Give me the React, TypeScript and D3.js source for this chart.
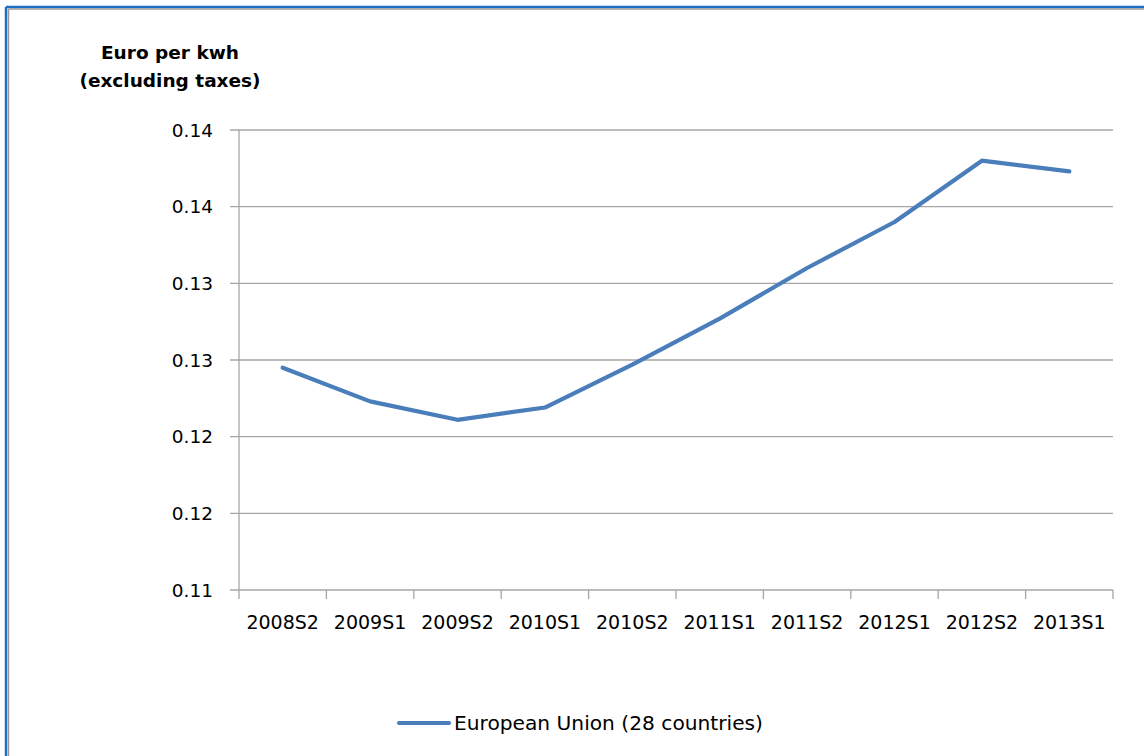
import React from "react";
import * as d3 from "d3";

const categories = ["2008S2", "2009S1", "2009S2", "2010S1", "2010S2", "2011S1", "2011S2", "2012S1", "2012S2", "2013S1"];
const euValues = [0.1245, 0.1223, 0.1211, 0.1219, 0.1247, 0.1277, 0.1310, 0.1340, 0.1380, 0.1373];
const yTickValues = [0.11, 0.115, 0.12, 0.125, 0.13, 0.135, 0.14];
const yTickLabels = ["0.11", "0.12", "0.12", "0.13", "0.13", "0.14", "0.14"];
const seriesName = "European Union (28 countries)";
const titleLines = ["Euro per kwh", "(excluding taxes)"];

const W = 1144;
const H = 756;
const FONT = "'DejaVu Sans', sans-serif";
const LINE_COLOR = "#4a7ebb";

export default function App() {
  const x = d3.scaleBand<string>().domain(categories).range([239, 1113]);
  const y = d3.scaleLinear().domain([0.11, 0.14]).range([590, 130]);
  const line = d3
    .line<number>()
    .x((_, i) => (x(categories[i]) as number) + x.bandwidth() / 2)
    .y((d) => y(d));
  const boundaries = [...categories.map((c) => x(c) as number), 1113];

  return (
    <svg width={W} height={H} style={{ position: "absolute", left: 0, top: 0, background: "#fff" }}>
      <rect x={0} y={0} width={W} height={H} fill="#fff" />
      {/* frame */}
      <line x1={6} y1={7} x2={W} y2={7} stroke="#1a6fc4" strokeWidth={2.5} />
      <line x1={6} y1={7} x2={6} y2={H} stroke="#1a6fc4" strokeWidth={2.5} />
      <line x1={8.5} y1={9} x2={W} y2={9} stroke="#9a9a9a" strokeWidth={1.5} />
      <line x1={8.5} y1={9} x2={8.5} y2={H} stroke="#9a9a9a" strokeWidth={1.5} />

      {/* title */}
      {titleLines.map((t, i) => (
        <text key={t} x={170} y={59 + i * 28} textAnchor="middle" fontFamily={FONT} fontWeight="bold" fontSize={18.5} fill="#000">
          {t}
        </text>
      ))}

      {/* gridlines and y ticks */}
      {yTickValues.map((v, i) => (
        <g key={i}>
          <line x1={230} x2={1113} y1={y(v)} y2={y(v)} stroke="#a6a6a6" strokeWidth={1.3} />
          <text x={213} y={y(v)} dy="0.36em" textAnchor="end" fontFamily={FONT} fontSize={18.5} fill="#000">
            {yTickLabels[i]}
          </text>
        </g>
      ))}

      {/* axes */}
      <line x1={239} x2={239} y1={130} y2={590} stroke="#a6a6a6" strokeWidth={1.3} />
      {boundaries.map((b, i) => (
        <line key={i} x1={b} x2={b} y1={590} y2={599} stroke="#a6a6a6" strokeWidth={1.3} />
      ))}
      {categories.map((c) => (
        <text key={c} x={(x(c) as number) + x.bandwidth() / 2} y={629} textAnchor="middle" fontFamily={FONT} fontSize={19} fill="#000">
          {c}
        </text>
      ))}

      {/* series */}
      <path d={line(euValues) as string} fill="none" stroke={LINE_COLOR} strokeWidth={4.2} strokeLinejoin="round" strokeLinecap="round" />

      {/* legend */}
      <line x1={399} x2={449} y1={723} y2={723} stroke={LINE_COLOR} strokeWidth={4.2} strokeLinecap="round" />
      <text x={454} y={730} fontFamily={FONT} fontSize={20.2} fill="#000">
        {seriesName}
      </text>
    </svg>
  );
}
